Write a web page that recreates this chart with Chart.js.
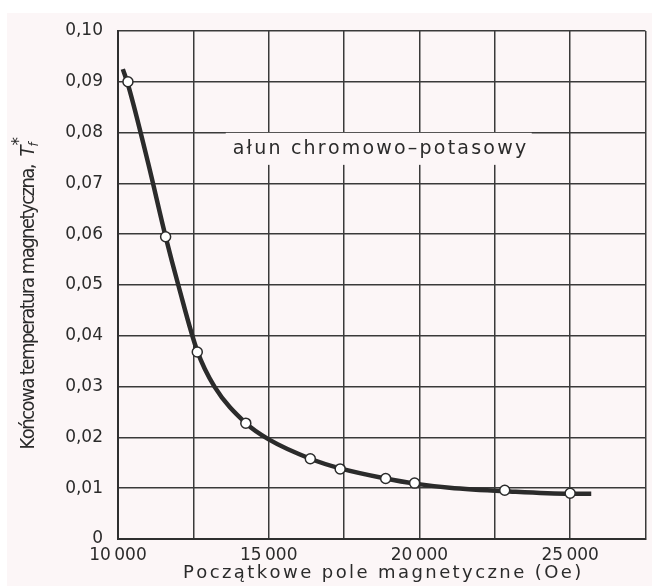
<!DOCTYPE html>
<html>
<head>
<meta charset="utf-8">
<script src="https://cdn.jsdelivr.net/npm/chart.js@4.4.1/dist/chart.umd.min.js"></script>
<style>
  html, body { margin: 0; padding: 0; background: #ffffff; }
  #wrap { position: relative; width: 652px; height: 586px; }
</style>
</head>
<body>
<div id="wrap"><canvas id="chart" width="652" height="586"></canvas></div>
<script>
// Measured points (circles) - initial field (Oe) vs final magnetic temperature
const pointField = [10330, 11580, 12630, 14240, 16380, 17370, 18880, 19840, 22830, 25000];
const pointTemp  = [0.0900, 0.0595, 0.0368, 0.0228, 0.0158, 0.0138, 0.0119, 0.0110, 0.0096, 0.0090];

// Drawn smooth curve through the data
const curveField = [10160, 10330, 11000, 11580, 12000, 12630, 13200, 14240, 15000, 16380, 17370, 18880, 19840, 21000, 22830, 25000, 25700];
const curveTemp  = [0.0925, 0.0895, 0.0740, 0.0595, 0.0500, 0.0370, 0.0300, 0.0228, 0.0196, 0.0158, 0.0139, 0.0119, 0.0109, 0.0101, 0.0094, 0.0089, 0.0089];

const xTickLabels = { 10000: '10\u2009000', 15000: '15\u2009000', 20000: '20\u2009000', 25000: '25\u2009000' };

const xTitle = 'Początkowe pole magnetyczne (Oe)';
const yTitle = 'Końcowa temperatura magnetyczna,';
const noteText = 'ałun chromowo\u2013potasowy';

const ink = '#2b2b2b';
const paper = '#fcf6f7';

// fill text with spacing so that it spans a target width
function spacedText(ctx, text, x, y, width) {
    const natural = ctx.measureText(text).width;
    const gap = (width - natural) / (text.length - 1);
    let cx = x;
    for (const ch of text) {
        ctx.fillText(ch, cx, y);
        cx += ctx.measureText(ch).width + gap;
    }
}

const decorations = {
    id: 'decorations',
    beforeDraw(chart) {
        const ctx = chart.ctx;
        ctx.save();
        ctx.fillStyle = '#ffffff';
        ctx.fillRect(0, 0, chart.width, chart.height);
        ctx.fillStyle = paper;
        ctx.fillRect(7, 13, chart.width - 7, chart.height - 13);
        ctx.restore();
    },
    beforeDatasetsDraw(chart) {
        const ctx = chart.ctx;
        const xs = chart.scales.x, ys = chart.scales.y;
        // label on the grid with blank box behind it
        const cx = xs.getPixelForValue(18650);
        const cy = ys.getPixelForValue(0.0768);
        ctx.save();
        ctx.fillStyle = paper;
        ctx.fillRect(cx - 153, cy - 16, 306, 32);
        ctx.fillStyle = ink;
        ctx.font = '19px "DejaVu Sans"';
        ctx.textBaseline = 'middle';
        spacedText(ctx, noteText, cx - 146, cy, 293);
        ctx.restore();
    },
    afterDraw(chart) {
        const ctx = chart.ctx;
        ctx.save();
        ctx.fillStyle = ink;
        // x axis title
        ctx.font = '18px "DejaVu Sans"';
        ctx.textBaseline = 'middle';
        spacedText(ctx, xTitle, 183, 573, 397);
        // y axis title, rotated
        ctx.translate(29, 291);
        ctx.rotate(-Math.PI / 2);
        ctx.font = '20px "Liberation Sans Narrow", "DejaVu Sans Condensed"';
        ctx.textBaseline = 'middle';
        const total = 317;
        const tail = 24;
        spacedText(ctx, yTitle, -total / 2, 0, total - tail - 8);
        const tx = total / 2 - tail;
        ctx.font = 'italic 20px "Liberation Sans Narrow", "DejaVu Sans Condensed"';
        ctx.fillText('T', tx, 0);
        const tw = ctx.measureText('T').width;
        ctx.font = 'italic 13px "Liberation Sans Narrow", "DejaVu Sans Condensed"';
        ctx.fillText('f', tx + tw - 1, 6);
        ctx.font = '17px "DejaVu Sans"';
        ctx.fillText('*', tx + tw, -9);
        ctx.restore();
    }
};

new Chart(document.getElementById('chart'), {
    type: 'scatter',
    data: {
        datasets: [{
            label: 'krzywa',
            data: curveField.map((f, i) => ({ x: f, y: curveTemp[i] })),
            showLine: true,
            borderColor: ink,
            borderWidth: 4.5,
            pointRadius: 0,
            cubicInterpolationMode: 'monotone',
            order: 2
        }, {
            label: 'pomiary',
            data: pointField.map((f, i) => ({ x: f, y: pointTemp[i] })),
            showLine: false,
            pointRadius: 5,
            pointBorderWidth: 1.5,
            pointBackgroundColor: '#ffffff',
            pointBorderColor: ink,
            order: 1
        }]
    },
    options: {
        responsive: false,
        animation: false,
        layout: { padding: { top: 31, right: 2, left: 0, bottom: 0 } },
        plugins: {
            legend: { display: false },
            tooltip: { enabled: false }
        },
        scales: {
            x: {
                type: 'linear',
                min: 10000,
                max: 27500,
                afterFit: s => { s.height = 47; },
                grid: { color: '#3a3a3a', lineWidth: 1.5, drawTicks: false },
                border: { color: '#2f2f2f', width: 2 },
                ticks: {
                    stepSize: 2500,
                    padding: 6,
                    color: ink,
                    font: { family: 'DejaVu Sans', size: 17 },
                    maxRotation: 0,
                    autoSkip: false,
                    callback: v => xTickLabels[v] || ''
                }
            },
            y: {
                min: 0,
                max: 0.1,
                afterFit: s => { s.width = 118; },
                grid: { color: '#3a3a3a', lineWidth: 1.5, drawTicks: false },
                border: { color: '#2f2f2f', width: 2 },
                ticks: {
                    stepSize: 0.01,
                    padding: 15,
                    color: ink,
                    font: { family: 'DejaVu Sans', size: 17 },
                    callback: v => Math.abs(v) < 1e-9 ? '0' : v.toFixed(2).replace('.', ',')
                }
            }
        }
    },
    plugins: [decorations]
});
</script>
</body>
</html>
